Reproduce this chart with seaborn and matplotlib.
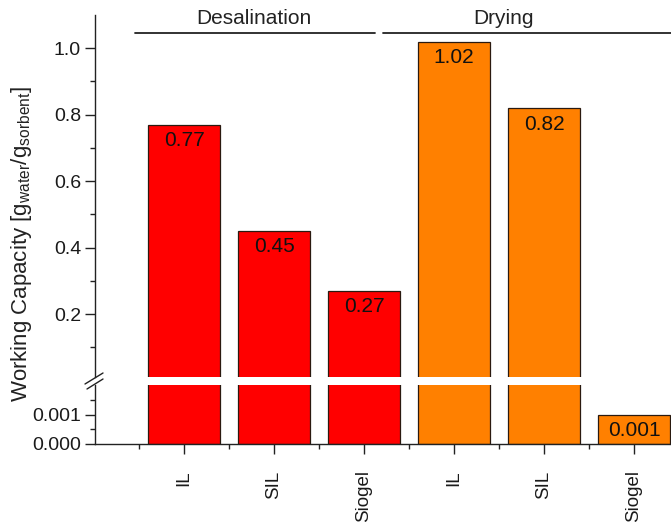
import matplotlib
matplotlib.use("Agg")
import matplotlib.pyplot as plt
from matplotlib.lines import Line2D
import seaborn as sns
import pandas as pd

# ---- data ----
groups = ["Desalination", "Desalination", "Desalination", "Drying", "Drying", "Drying"]
materials = ["IL", "SIL", "Siogel", "IL", "SIL", "Siogel"]
capacity = [0.77, 0.45, 0.27, 1.02, 0.82, 0.001]
value_labels = ["0.77", "0.45", "0.27", "1.02", "0.82", "0.001"]
group_names = ["Desalination", "Drying"]
group_colors = {"Desalination": "#FF0000", "Drying": "#FF8000"}
upper_ticks = [0.2, 0.4, 0.6, 0.8, 1.0]
upper_ticklabels = ["0.2", "0.4", "0.6", "0.8", "1.0"]
lower_ticks = [0.0, 0.001]
lower_ticklabels = ["0.000", "0.001"]

df = pd.DataFrame({"group": groups, "material": materials, "capacity": capacity})
df["key"] = df["group"] + " " + df["material"]

sns.set_theme(style="ticks")
plt.rcParams["font.family"] = ["Liberation Sans", "DejaVu Sans"]
plt.rcParams["mathtext.fontset"] = "custom"
plt.rcParams["mathtext.rm"] = "Liberation Sans"
plt.rcParams["mathtext.it"] = "Liberation Sans"

W, H = 671, 530
fig = plt.figure(figsize=(W / 100, H / 100), dpi=100)
left = 95 / W
ax_top = fig.add_axes([left, 1 - 377 / H, 1 - left, (377 - 15) / H])
ax_bot = fig.add_axes([left, 1 - 444 / H, 1 - left, (444 - 385) / H])

for ax in (ax_top, ax_bot):
    sns.barplot(data=df, x="key", y="capacity", hue="group", palette=group_colors,
                dodge=False, width=0.8, saturation=1, edgecolor="#2a1a10",
                linewidth=0.9, legend=False, ax=ax)
    ax.set_xlim(-0.99, 5.41)
    ax.set_xlabel("")
    ax.set_ylabel("")
    for s in ("top", "right"):
        ax.spines[s].set_visible(False)
    for s in ("left", "bottom"):
        ax.spines[s].set_linewidth(1.0)
        ax.spines[s].set_color("#222222")
    ax.tick_params(axis="y", which="major", length=7, width=1.0, labelsize=14,
                   pad=3, color="#222222", labelcolor="#1a1a1a")
    ax.tick_params(axis="y", which="minor", length=3.5, width=1.0, color="#222222")

# upper axes
ax_top.set_ylim(0.0105, 1.1)
ax_top.set_yticks(upper_ticks)
ax_top.set_yticklabels(upper_ticklabels)
ax_top.set_yticks([0.1, 0.3, 0.5, 0.7, 0.9], minor=True)
ax_top.spines["bottom"].set_visible(False)
ax_top.tick_params(axis="x", which="both", bottom=False, labelbottom=False)

# lower axes
ax_bot.set_ylim(0, 0.00203)
ax_bot.set_yticks(lower_ticks)
ax_bot.set_yticklabels(lower_ticklabels)
ax_bot.set_yticks([0.0005, 0.0015], minor=True)
ax_bot.set_xticks(range(len(materials)))
ax_bot.set_xticklabels(materials, rotation=90, fontsize=13.5, color="#1a1a1a")
ax_bot.set_xticks([i - 0.5 for i in range(len(materials))], minor=True)
ax_bot.tick_params(axis="x", which="major", length=7, width=1.0, pad=12, color="#222222")
ax_bot.tick_params(axis="x", which="minor", length=3.5, width=1.0, color="#222222")

# value labels inside bars
for i, (v, lab) in enumerate(zip(capacity, value_labels)):
    for ax in (ax_top, ax_bot):
        lo, hi = ax.get_ylim()
        if lo < v <= hi:
            ax.annotate(lab, xy=(i, v), xytext=(0, -11.5), textcoords="offset points",
                        ha="center", va="center", fontsize=15, color="#111111")

# group brackets above bars
group_spans = {"Desalination": (-0.544, 2.12, 0.77), "Drying": (2.21, 5.6, 3.55)}
for g in group_names:
    x0, x1, xc = group_spans[g]
    ax_top.add_line(Line2D([x0, x1], [1.045, 1.045], color="#222222", lw=1.3,
                           clip_on=False))
    ax_top.text(xc, 1.09, g, ha="center", va="center", fontsize=15,
                color="#222222", clip_on=False)

# axis break marks
for (xa, ya, xb, yb) in [(85, 384, 103, 373), (87, 389, 103, 379)]:
    fig.add_artist(Line2D([xa / W, xb / W], [1 - ya / H, 1 - yb / H],
                          transform=fig.transFigure, color="#222222", lw=1.0))

fig.text(22 / W, 1 - 244 / H,
         r"Working Capacity [g$_{\mathrm{water}}$/g$_{\mathrm{sorbent}}$]",
         rotation=90, ha="center", va="center", fontsize=16, color="#222222")

fig.savefig("out.png", dpi=100)
